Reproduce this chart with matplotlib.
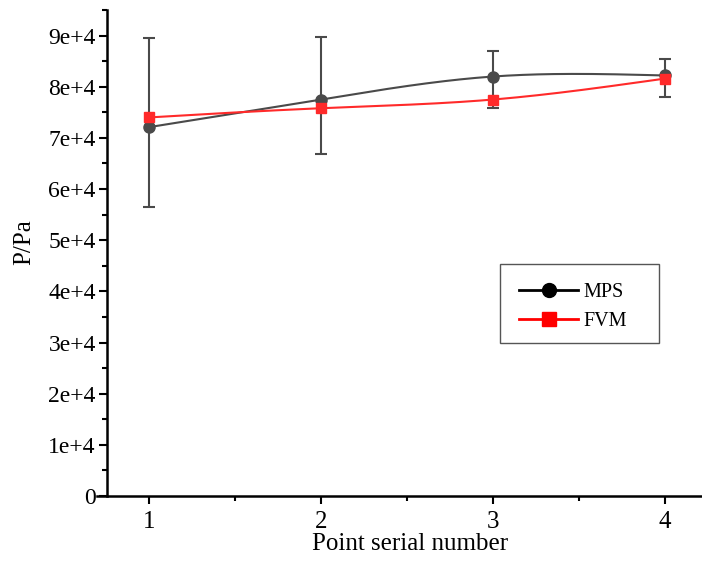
import numpy as np
import matplotlib
matplotlib.use("Agg")
import matplotlib.pyplot as plt
from matplotlib.patches import Rectangle
from matplotlib.ticker import MultipleLocator, FuncFormatter

plt.rcParams['font.family'] = ['Liberation Serif', 'DejaVu Serif']

points = [1, 2, 3, 4]
mps = [72100, 77500, 82000, 82200]
mps_err_low = [15700, 10700, 6200, 4300]
mps_err_high = [17400, 12300, 4900, 3200]
fvm = [74000, 75800, 77500, 81600]

mps_color = '#4a4a4a'
fvm_color = '#ff2a2a'


def spline(x, y, n=200):
    # natural cubic spline, just for drawing the smooth connecting line
    x = np.asarray(x, float)
    y = np.asarray(y, float)
    k = len(x)
    h = np.diff(x)
    A = np.zeros((k, k))
    r = np.zeros(k)
    A[0, 0] = A[-1, -1] = 1
    for i in range(1, k - 1):
        A[i, i - 1] = h[i - 1]
        A[i, i] = 2 * (h[i - 1] + h[i])
        A[i, i + 1] = h[i]
        r[i] = 3 * ((y[i + 1] - y[i]) / h[i] - (y[i] - y[i - 1]) / h[i - 1])
    c = np.linalg.solve(A, r)
    xs = np.linspace(x[0], x[-1], n)
    ys = np.empty_like(xs)
    for j, xv in enumerate(xs):
        i = min(np.searchsorted(x, xv, side='right') - 1, k - 2)
        b = (y[i + 1] - y[i]) / h[i] - h[i] * (c[i + 1] + 2 * c[i]) / 3
        d = (c[i + 1] - c[i]) / (3 * h[i])
        t = xv - x[i]
        ys[j] = y[i] + b * t + c[i] * t ** 2 + d * t ** 3
    return xs, ys


fig = plt.figure(figsize=(7.02, 5.66), dpi=100)
ax = fig.add_axes([0.1524, 0.1237, 0.8476, 0.8586])

xs, ys = spline(points, mps)
ax.plot(xs, ys, color=mps_color, lw=1.5, zorder=2)
xs, ys = spline(points, fvm)
ax.plot(xs, ys, color=fvm_color, lw=1.5, zorder=2)

ax.errorbar(points, mps, yerr=[mps_err_low, mps_err_high], fmt='none',
            ecolor=mps_color, elinewidth=1.5, capsize=4, capthick=1.5, zorder=3)
ax.plot(points, mps, 'o', color=mps_color, ms=8, zorder=4)
ax.plot(points, fvm, 's', color=fvm_color, ms=7.5, zorder=5)

# legend: entries without frame, box drawn separately
ax.plot([], [], '-o', color='black', ms=10, lw=2, label='MPS')
ax.plot([], [], '-s', color='red', ms=10, lw=2, label='FVM')
ax.legend(loc='center left', bbox_to_anchor=(0.693, 0.389), fontsize=14.5,
          frameon=False, handlelength=2.9, borderpad=0, labelspacing=0.45,
          handletextpad=0.3, borderaxespad=0)
ax.add_patch(Rectangle((0.6605, 0.3148), 0.2672, 0.1626, transform=ax.transAxes,
                       fill=False, edgecolor='#555555', lw=1.0, zorder=6))

ax.set_xlim(0.756, 4.215)
ax.set_ylim(0, 95000)
ax.set_xticks(points)
ax.xaxis.set_minor_locator(MultipleLocator(0.5))
ax.yaxis.set_major_locator(MultipleLocator(10000))
ax.yaxis.set_minor_locator(MultipleLocator(5000))
ax.yaxis.set_major_formatter(FuncFormatter(lambda v, p: '0' if v == 0 else f'{int(round(v / 1e4))}e+4'))

for s in ['top', 'right']:
    ax.spines[s].set_visible(False)
for s in ['left', 'bottom']:
    ax.spines[s].set_linewidth(1.8)
ax.spines['bottom'].set_bounds(0.70, 4.215)

ax.tick_params(which='major', direction='out', length=6, width=1.5)
ax.tick_params(which='minor', direction='out', length=3.5, width=1.5)
ax.tick_params(axis='x', labelsize=18, pad=5)
ax.tick_params(axis='y', labelsize=17, pad=2)

ax.set_xlabel('Point serial number', fontsize=18)
ax.xaxis.set_label_coords(0.51, -0.077)
ax.set_ylabel('P/Pa', fontsize=18)
ax.yaxis.set_label_coords(-0.12, 0.523)

fig.savefig('out.png', dpi=100)
